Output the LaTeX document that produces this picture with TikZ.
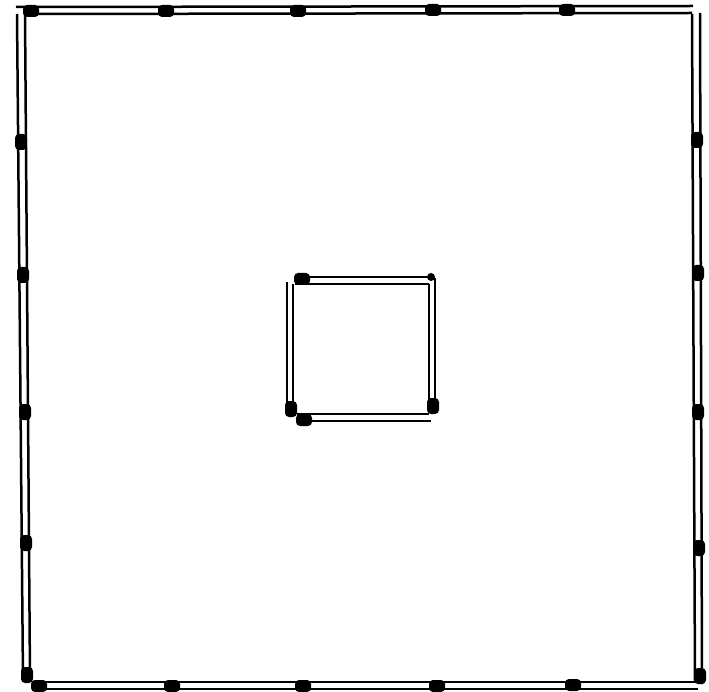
\documentclass[tikz,border=0pt]{standalone}
\usepackage{tikz}

\begin{document}
\begin{tikzpicture}[x=1pt,y=-1pt]
\tikzset{wall/.style={line width=2.5pt},hpost/.style={rectangle,rounded corners=4pt,fill,inner sep=0pt,minimum width=16pt,minimum height=12pt},vpost/.style={rectangle,rounded corners=4pt,fill,inner sep=0pt,minimum width=12pt,minimum height=16pt},smallpost/.style={circle,fill,inner sep=0pt,minimum size=8pt}}
\useasboundingbox (0,0) rectangle (709,692);

% outer walls
\draw[wall] (16,7) -- (693,6);
\draw[wall] (25,14) -- (692,13);
\draw[wall] (700,13) -- (702,684);
\draw[wall] (692,14) -- (695,682);
\draw[wall] (33,682) -- (697,682);
\draw[wall] (38,689) -- (698,689);
\draw[wall] (17,14) -- (23,680);
\draw[wall] (25,14) -- (30,678);

% inner walls
\draw[wall] (295,277) -- (432,277);
\draw[wall] (295,284) -- (429,284);
\draw[wall] (435,278) -- (435,408);
\draw[wall] (429,284) -- (429,408);
\draw[wall] (297,414) -- (429,414);
\draw[wall] (297,421) -- (431,421);
\draw[wall] (287,282) -- (287,410);
\draw[wall] (293,284) -- (293,410);

% posts
\node[hpost] (top1) at (31,11) {};
\node[hpost] (top2) at (166,11) {};
\node[hpost] (top3) at (298,11) {};
\node[hpost] (top4) at (433,10) {};
\node[hpost] (top5) at (567,10) {};
\node[vpost] (right1) at (697,140) {};
\node[vpost] (right2) at (698,273) {};
\node[vpost] (right3) at (698,412) {};
\node[vpost] (right4) at (699,548) {};
\node[vpost] (right5) at (700,676) {};
\node[hpost] (bot1) at (39,686) {};
\node[hpost] (bot2) at (172,686) {};
\node[hpost] (bot3) at (303,686) {};
\node[hpost] (bot4) at (437,686) {};
\node[hpost] (bot5) at (573,685) {};
\node[vpost] (left1) at (21,142) {};
\node[vpost] (left2) at (23,275) {};
\node[vpost] (left3) at (25,412) {};
\node[vpost] (left4) at (26,543) {};
\node[vpost] (left5) at (27,675) {};
\node[hpost] (in1) at (302,279) {};
\node[smallpost] (in2) at (431,277) {};
\node[vpost] (in3) at (433,406) {};
\node[hpost] (in4) at (304,420) {};
\node[vpost] (in5) at (291,409) {};
\end{tikzpicture}
\end{document}
